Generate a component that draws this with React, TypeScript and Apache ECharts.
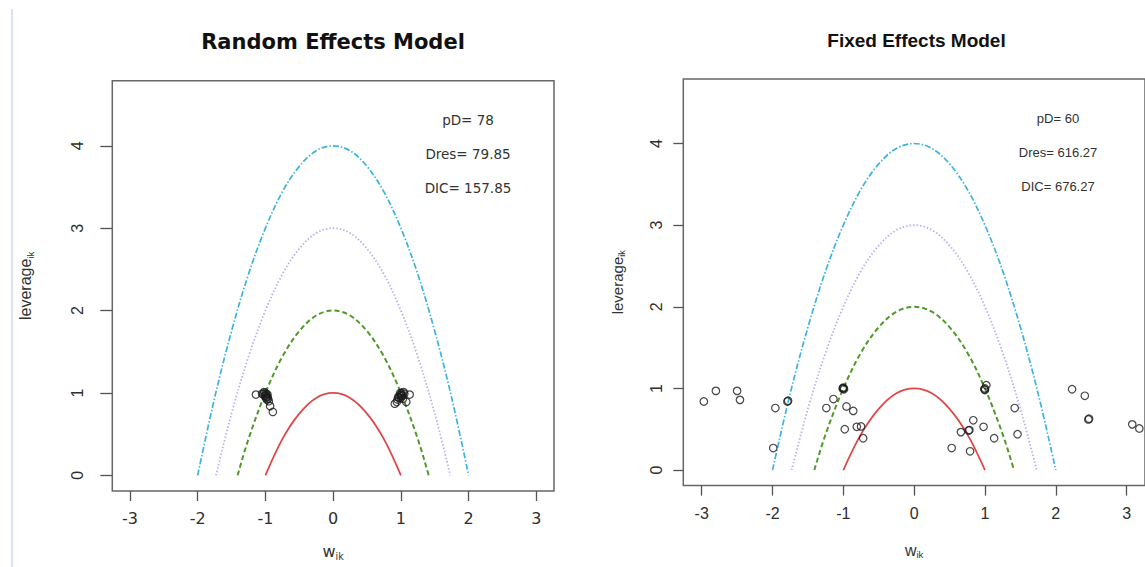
import { useEffect, useRef } from "react";
import * as echarts from "echarts";

// ---- axis ticks / ranges ----
const xTicks = [-3, -2, -1, 0, 1, 2, 3];
const yTicks = [0, 1, 2, 3, 4];
const xMin = -3.26;
const xMax = 3.26;
const yMin = -0.19;
const yMax = 4.79;

// ---- reference parabolas (leverage = c - w^2) ----
const curve1W = [-1, -0.75, -0.5, -0.25, 0, 0.25, 0.5, 0.75, 1];
const curve1Lev = [0, 0.44, 0.75, 0.94, 1, 0.94, 0.75, 0.44, 0];
const curve2W = [-1.41, -1.25, -1, -0.75, -0.5, -0.25, 0, 0.25, 0.5, 0.75, 1, 1.25, 1.41];
const curve2Lev = [0, 0.44, 1, 1.44, 1.75, 1.94, 2, 1.94, 1.75, 1.44, 1, 0.44, 0];
const curve3W = [-1.73, -1.5, -1.25, -1, -0.75, -0.5, -0.25, 0, 0.25, 0.5, 0.75, 1, 1.25, 1.5, 1.73];
const curve3Lev = [0, 0.75, 1.44, 2, 2.44, 2.75, 2.94, 3, 2.94, 2.75, 2.44, 2, 1.44, 0.75, 0];
const curve4W = [-2, -1.75, -1.5, -1.25, -1, -0.75, -0.5, -0.25, 0, 0.25, 0.5, 0.75, 1, 1.25, 1.5, 1.75, 2];
const curve4Lev = [0, 0.94, 1.75, 2.44, 3, 3.44, 3.75, 3.94, 4, 3.94, 3.75, 3.44, 3, 2.44, 1.75, 0.94, 0];

// ---- Random effects model points ----
const randomW = [
  -1.14, -1.05, -1.03, -1.02, -1.01, -1.0, -1.0, -0.99, -0.99, -0.98, -0.98, -0.97, -0.97, -0.96, -0.95, -0.93, -0.89,
  0.91, 0.94, 0.95, 0.96, 0.97, 0.98, 0.99, 1.0, 1.0, 1.01, 1.01, 1.02, 1.03, 1.04, 1.05, 1.08, 1.13,
];
const randomLev = [
  0.98, 0.99, 0.99, 1.01, 0.96, 1.0, 0.97, 0.99, 0.94, 0.96, 0.92, 0.95, 0.98, 0.93, 0.9, 0.84, 0.77,
  0.87, 0.89, 0.92, 0.95, 0.94, 0.97, 1.0, 0.98, 0.94, 1.0, 0.96, 0.97, 0.93, 1.01, 0.99, 0.89, 0.98,
];

// ---- Fixed effects model points ----
const fixedW = [
  -2.97, -2.8, -2.5, -2.46, -1.96, -1.99, -1.79, -1.78, -1.24, -1.14, -1.01, -1.0, -0.99, -1.0, -0.955, -0.86,
  -0.98, -0.81, -0.75, -0.72, 0.53, 0.66, 0.77, 0.78, 0.79, 0.835, 0.98, 1.0, 0.99, 1.0, 1.02, 1.13, 1.42, 1.46,
  2.23, 2.41, 2.46, 2.47, 3.08, 3.18,
];
const fixedLev = [
  0.84, 0.97, 0.97, 0.86, 0.76, 0.27, 0.84, 0.85, 0.76, 0.87, 1.0, 1.01, 0.99, 1.0, 0.78, 0.725,
  0.5, 0.53, 0.535, 0.39, 0.27, 0.465, 0.486, 0.49, 0.23, 0.61, 0.53, 1.0, 0.99, 0.98, 1.04, 0.39, 0.76, 0.44,
  0.99, 0.91, 0.62, 0.63, 0.56, 0.51,
];

// ---- texts ----
const randomTitle = "Random Effects Model";
const fixedTitle = "Fixed Effects Model";
const randomStats = ["pD= 78", "Dres= 79.85", "DIC= 157.85"];
const fixedStats = ["pD= 60", "Dres= 616.27", "DIC= 676.27"];

const curveStyles = [
  { w: curve1W, lev: curve1Lev, color: "#e04848", width: 1.8, type: "solid" as any },
  { w: curve2W, lev: curve2Lev, color: "#4e9a2a", width: 2, type: [5, 3] as any },
  { w: curve3W, lev: curve3Lev, color: "#bcaef0", width: 1.8, type: [1.5, 2] as any },
  { w: curve4W, lev: curve4Lev, color: "#3db3df", width: 1.7, type: [6, 2, 1.5, 2] as any },
];

const DEJ = "DejaVu Sans";
const LIB = "Liberation Sans, Arial, sans-serif";

function makeXAxis(gridIndex: number, font: string, size: number, margin: number, nameGap: number, nameSize: number) {
  return {
    type: "value",
    gridIndex,
    min: xMin,
    max: xMax,
    axisLine: { show: false, onZero: false },
    splitLine: { show: false },
    axisTick: { show: true, inside: false, length: 10, customValues: xTicks, lineStyle: { color: "#555", width: 1.3 } },
    axisLabel: { customValues: xTicks, fontFamily: font, fontSize: size, color: "#2e2e2e", margin },
    name: "{m|w}{s|ik}",
    nameLocation: "middle",
    nameGap,
    nameTextStyle: {
      rich: {
        m: { fontFamily: font, fontSize: nameSize, color: "#333" },
        s: { fontFamily: font, fontSize: nameSize * 0.6, color: "#333", padding: [9, 0, 0, 0] },
      },
    },
  };
}

function makeYAxis(gridIndex: number, size: number, margin: number, tickLen: number, nameGap: number, nameSize: number) {
  return {
    type: "value",
    gridIndex,
    min: yMin,
    max: yMax,
    axisLine: { show: false, onZero: false },
    splitLine: { show: false },
    axisTick: { show: true, inside: false, length: tickLen, customValues: yTicks, lineStyle: { color: "#555", width: 1.3 } },
    axisLabel: { customValues: yTicks, fontFamily: LIB, fontSize: size, color: "#2e2e2e", margin, rotate: 90 },
    name: "{m|leverage}{s|ik}",
    nameLocation: "middle",
    nameRotate: 90,
    nameGap,
    nameTextStyle: {
      rich: {
        m: { fontFamily: LIB, fontSize: nameSize, color: "#333" },
        s: { fontFamily: LIB, fontSize: nameSize * 0.6, color: "#333", padding: [9, 0, 0, 0] },
      },
    },
  };
}

function seriesFor(idx: number, ws: number[], levs: number[]) {
  const out: any[] = curveStyles.map((c) => ({
    type: "line",
    xAxisIndex: idx,
    yAxisIndex: idx,
    data: c.w.map((x, i) => [x, c.lev[i]]),
    showSymbol: false,
    smooth: 0.35,
    silent: true,
    lineStyle: { color: c.color, width: c.width, type: c.type },
    z: 2,
  }));
  out.push({
    type: "scatter",
    xAxisIndex: idx,
    yAxisIndex: idx,
    data: ws.map((x, i) => [x, levs[i]]),
    symbol: "circle",
    symbolSize: 7.5,
    silent: true,
    itemStyle: { color: "rgba(255,255,255,0)", borderColor: "#1a1a1a", borderWidth: 1.2 },
    z: 3,
  });
  return out;
}

export default function App() {
  const ref = useRef<HTMLDivElement>(null);
  useEffect(() => {
    if (!ref.current) return;
    const chart = echarts.init(ref.current, null, { renderer: "svg" });
    const statText = (arr: string[], x: number, ys: number[], font: string, size: number) =>
      arr.map((t, i) => ({
        type: "text",
        x,
        y: ys[i],
        style: { text: t, fontFamily: font, fontSize: size, fill: "#333", align: "center", verticalAlign: "middle" },
      }));
    chart.setOption({
      animation: false,
      backgroundColor: "#ffffff",
      grid: [
        { left: 112.3, top: 80.7, width: 441.7, height: 410.3, show: true, borderColor: "#666", borderWidth: 1.5, backgroundColor: "transparent" },
        { left: 683.3, top: 79, width: 466.7, height: 406.6, show: true, borderColor: "#666", borderWidth: 1.5, backgroundColor: "transparent" },
      ],
      xAxis: [makeXAxis(0, DEJ, 16, 19, 51, 16), makeXAxis(1, LIB, 16, 20, 55, 16)],
      yAxis: [makeYAxis(0, 16, 27, 12, 77, 16), makeYAxis(1, 16, 19, 10, 57, 15)],
      series: [...seriesFor(0, randomW, randomLev), ...seriesFor(1, fixedW, fixedLev)],
      graphic: [
        { type: "line", shape: { x1: 12, y1: 9, x2: 12, y2: 567 }, style: { stroke: "#d6e4f6", lineWidth: 2 } },
        {
          type: "text",
          x: 333,
          y: 42,
          style: { text: randomTitle, fontFamily: DEJ, fontWeight: "bold", fontSize: 21, fill: "#111", align: "center", verticalAlign: "middle" },
        },
        {
          type: "text",
          x: 916.5,
          y: 40.5,
          style: { text: fixedTitle, fontFamily: LIB, fontWeight: "bold", fontSize: 19, fill: "#111", align: "center", verticalAlign: "middle" },
        },
        ...statText(randomStats, 468, [120, 154, 188], DEJ, 13.5),
        ...statText(fixedStats, 1058, [118, 152.5, 186], LIB, 13),
      ],
    });
    return () => chart.dispose();
  }, []);
  return <div ref={ref} style={{ position: "absolute", left: 0, top: 0, width: 1145, height: 567 }} />;
}
